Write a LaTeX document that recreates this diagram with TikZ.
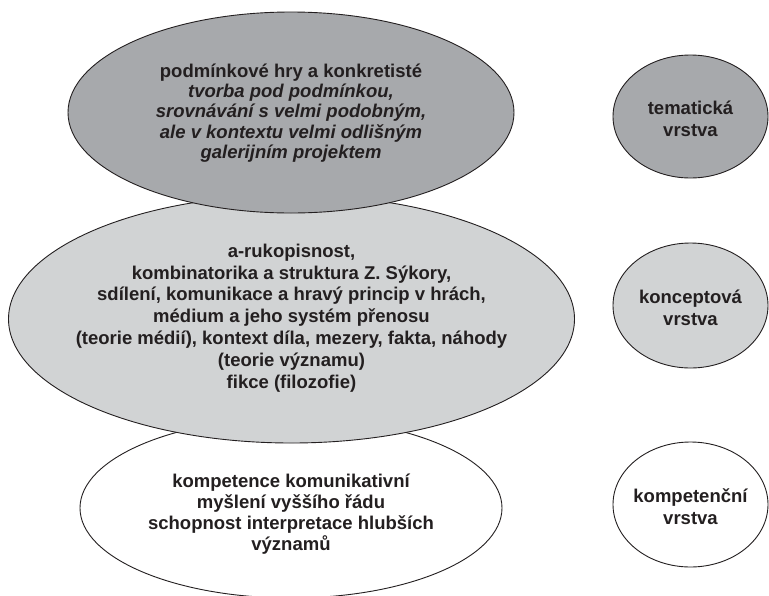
\documentclass[tikz,border=0pt]{standalone}
\usepackage{fontspec}
\setmainfont{Liberation Sans}
\usetikzlibrary{shapes.geometric}

\definecolor{darklayer}{HTML}{A7A9AC}
\definecolor{lightlayer}{HTML}{D1D3D4}
\definecolor{ink}{HTML}{231F20}

\tikzset{
  layer/.style={ellipse, draw=ink, line width=0.9pt, inner sep=0pt},
  layertext/.style={font=\bfseries\fontsize{18.5}{#1}\selectfont, text=ink,
                    align=center, inner sep=0pt},
}

\begin{document}
\begin{tikzpicture}[x=1pt,y=-1pt]
\useasboundingbox (0,0) rectangle (769,595);

% stacked layers, drawn from the bottom up
\node[layer, fill=white, minimum width=422pt, minimum height=180pt] (kompetence) at (291,508) {};
\node[layer, fill=lightlayer, minimum width=566pt, minimum height=248pt] (koncept) at (291.5,319) {};
\node[layer, fill=darklayer, minimum width=446pt, minimum height=201pt] (tema) at (291,112.5) {};

\node[layertext=20.3] (tematext) at ([yshift=-0.5pt]tema.center)
  {podmínkové hry a konkretisté\\
   \itshape tvorba pod podmínkou,\\
   \itshape srovnávání s velmi podobným,\\
   \itshape ale v kontextu velmi odlišným\\
   \itshape galerijním projektem};

\node[layertext=21.8] (koncepttext) at ([yshift=1pt]koncept.center)
  {a-rukopisnost,\\
   kombinatorika a struktura Z. Sýkory,\\
   sdílení, komunikace a hravý princip v hrách,\\
   médium a jeho systém přenosu\\
   (teorie médií), kontext díla, mezery, fakta, náhody\\
   (teorie významu)\\
   fikce (filozofie)};

\node[layertext=21] (kompetencetext) at ([yshift=-6pt]kompetence.center)
  {kompetence komunikativní\\
   myšlení vyššího řádu\\
   schopnost interpretace hlubších\\
   významů};

% layer labels on the right
\node[layer, fill=darklayer, minimum width=155pt, minimum height=123pt] (tlabel) at (690.5,116.5) {};
\node[layer, fill=lightlayer, minimum width=155pt, minimum height=125pt] (klabel) at (690.5,305.5) {};
\node[layer, fill=white, minimum width=155pt, minimum height=125pt] (plabel) at (690.5,504.5) {};

\node[layertext=22] at ([yshift=-2.5pt]tlabel.center) {tematická\\vrstva};
\node[layertext=22] at ([yshift=-2.5pt]klabel.center) {konceptová\\vrstva};
\node[layertext=22] at ([yshift=-2.5pt]plabel.center) {kompetenční\\vrstva};
\end{tikzpicture}
\end{document}
